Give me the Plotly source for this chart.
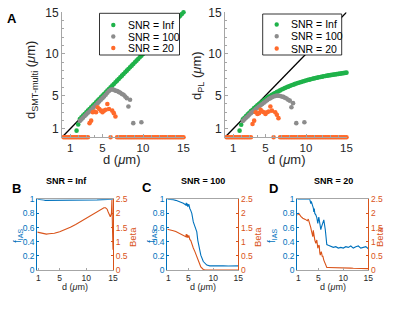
import plotly.graph_objects as go

# ---------------- data ----------------
identity_line = [0, 15]

# SNR = 20 (all fitted diameters, zeros where fit failed)
d_20 = [0.2, 0.4, 0.6, 0.8, 1.0, 1.2, 1.4, 1.6, 1.8, 2.0,
        2.2, 2.4, 2.6, 2.8, 3.0, 3.2, 3.4, 3.6, 3.8, 4.0,
        4.2, 4.4, 4.6, 4.8, 5.0, 5.2, 5.4, 5.6, 5.8, 6.0,
        6.2, 6.4, 6.6, 6.8, 7.0, 7.2, 7.4, 7.6, 7.8, 8.0,
        8.2, 8.4, 8.6, 8.8, 9.0, 9.2, 9.4, 9.6, 9.8, 10.0,
        10.2, 10.4, 10.6, 10.8, 11.0, 11.2, 11.4, 11.6, 11.8, 12.0,
        12.2, 12.4, 12.6, 12.8, 13.0, 13.2, 13.4, 13.6, 13.8, 14.0,
        14.2, 14.4, 14.6, 14.8, 15.0]
smt_20 = [0, 0, 0, 0, 0, 0, 0, 0, 0, 0,
          0, 0, 0, 0, 0, 0, 1.7, 2.0, 3.0, 3.1,
          3.0, 3.6, 3.4, 3.2, 3.0, 3.2, 3.3, 4.0, 3.4, 0,
          3.2, 2.9, 2.5, 0, 0, 0, 0, 0, 0, 0,
          0, 0, 0, 0, 0, 0, 0, 0, 0, 0,
          0, 0, 0, 0, 0, 0, 0, 0, 0, 0,
          0, 0, 0, 0, 0, 0, 0, 0, 0, 0,
          0, 0, 0, 0, 0]
pl_20 = [0, 0, 0, 0, 0, 0, 0, 0, 0, 0,
         0, 0, 0, 0, 0, 0, 1.6, 2.0, 3.0, 2.8,
         2.9, 3.3, 3.1, 3.0, 2.8, 3.0, 3.1, 3.7, 3.2, 0,
         3.0, 2.7, 2.3, 0, 0, 0, 0, 0, 0, 0,
         0, 0, 0, 0, 0, 0, 0, 0, 0, 0,
         0, 0, 0, 0, 0, 0, 0, 0, 0, 0,
         0, 0, 0, 0, 0, 0, 0, 0, 0, 0,
         0, 0, 0, 0, 0]

# SNR = Inf
d_inf = [1.8, 2.0, 2.2, 2.4, 2.6, 2.8, 3.0, 3.2, 3.4, 3.6, 3.8, 4.0,
         4.2, 4.4, 4.6, 4.8, 5.0, 5.2, 5.4, 5.6, 5.8, 6.0,
         6.2, 6.4, 6.6, 6.8, 7.0, 7.2, 7.4, 7.6, 7.8, 8.0,
         8.2, 8.4, 8.6, 8.8, 9.0, 9.2, 9.4, 9.6, 9.8, 10.0,
         10.2, 10.4, 10.6, 10.8, 11.0, 11.2, 11.4, 11.6, 11.8, 12.0,
         12.2, 12.4, 12.6, 12.8, 13.0, 13.2, 13.4, 13.6, 13.8, 14.0,
         14.2, 14.4, 14.6, 14.8, 15.0]
smt_inf = [0.8, 1.55, 2.2, 2.4, 2.6, 2.8, 3.0, 3.2, 3.4, 3.6, 3.8, 4.0,
           4.2, 4.4, 4.6, 4.8, 5.0, 5.2, 5.4, 5.6, 5.8, 6.0,
           6.2, 6.4, 6.6, 6.8, 7.0, 7.2, 7.4, 7.6, 7.8, 8.0,
           8.2, 8.4, 8.6, 8.8, 9.0, 9.2, 9.4, 9.6, 9.8, 10.0,
           10.2, 10.4, 10.6, 10.8, 11.0, 11.2, 11.4, 11.6, 11.8, 12.0,
           12.2, 12.4, 12.6, 12.8, 13.0, 13.2, 13.4, 13.6, 13.8, 14.0,
           14.2, 14.4, 14.6, 14.8, 15.0]
pl_inf = [0.8, 1.5, 2.15, 2.35, 2.55, 2.75, 2.95, 3.15, 3.3, 3.5, 3.65, 3.85,
          4.0, 4.15, 4.3, 4.45, 4.6, 4.73, 4.86, 4.98, 5.1, 5.21,
          5.32, 5.43, 5.53, 5.63, 5.73, 5.82, 5.91, 6.0, 6.08, 6.16,
          6.24, 6.31, 6.38, 6.45, 6.52, 6.58, 6.64, 6.7, 6.76, 6.82,
          6.87, 6.92, 6.97, 7.02, 7.07, 7.12, 7.16, 7.2, 7.24, 7.28,
          7.32, 7.36, 7.4, 7.43, 7.46, 7.49, 7.52, 7.55, 7.58, 7.61,
          7.64, 7.67, 7.7, 7.73, 7.76]

# SNR = 100
d_100 = [2.2, 2.4, 2.6, 2.8, 3.0, 3.2, 3.4, 3.6, 3.8, 4.0,
         4.2, 4.4, 4.6, 4.8, 5.0, 5.2, 5.4, 5.6, 5.8, 6.0,
         6.2, 6.4, 6.6, 6.8, 7.0, 7.2, 7.4, 7.6, 7.8, 8.0,
         8.2, 8.4, 8.8, 9.8]
smt_100 = [1.95, 2.15, 2.35, 2.55, 2.75, 2.95, 3.1, 3.3, 3.5, 3.7,
           3.9, 4.1, 4.3, 4.5, 4.7, 4.9, 5.1, 5.35, 5.55, 5.7,
           5.75, 5.7, 5.6, 5.55, 5.45, 5.35, 5.2, 5.1, 4.9, 4.7,
           3.7, 4.5, 1.7, 1.8]
pl_100 = [1.95, 2.15, 2.35, 2.5, 2.7, 2.9, 3.05, 3.2, 3.4, 3.55,
          3.7, 3.85, 4.0, 4.15, 4.3, 4.45, 4.6, 4.7, 4.8, 4.9,
          4.95, 5.0, 5.0, 4.95, 4.9, 4.85, 4.75, 4.65, 4.5, 4.4,
          3.6, 4.1, 1.7, 1.8]

# Panel B (SNR = Inf)
b_d_f = [0.8, 1.5, 2.0, 2.3, 5.0, 8.0, 10.0, 12.0, 13.0, 14.0, 15.0]
b_f = [1.0, 1.0, 0.99, 0.985, 0.985, 0.985, 0.988, 0.992, 0.996, 1.0, 1.0]
b_d_beta = [0.8, 1.0, 1.5, 2.0, 2.5, 3.0, 4.0, 5.0, 6.0, 7.0, 8.0, 9.0, 10.0, 11.0,
            12.0, 12.5, 13.0, 13.3, 13.6, 13.9, 14.1, 14.3, 14.5, 14.7, 14.8, 14.9, 15.0]
b_beta = [1.34, 1.33, 1.30, 1.28, 1.27, 1.28, 1.30, 1.35, 1.42, 1.51, 1.61, 1.72, 1.83, 1.94,
          2.06, 2.12, 2.17, 2.20, 2.20, 2.15, 2.05, 1.96, 1.88, 2.0, 2.48, 1.5, 0.72]

# Panel C (SNR = 100)
c_d = [0.8, 1.5, 2.0, 2.5, 3.0, 3.4, 3.7, 4.0, 4.3, 4.5,
       4.6, 4.7, 4.8, 4.9, 5.0, 5.1, 5.2, 5.3, 5.5, 5.7,
       6.0, 6.3, 6.7, 6.9, 7.2, 7.5, 8.0, 8.4, 8.7, 9.3,
       10.0, 11.0, 12.0, 13.0, 14.0, 15.0]
c_f = [1.0, 1.0, 0.995, 0.985, 0.975, 0.965, 0.95, 0.945, 0.93, 0.92,
       0.95, 0.91, 0.94, 0.9, 0.905, 0.93, 0.89, 0.87, 0.84, 0.8,
       0.68, 0.61, 0.54, 0.42, 0.33, 0.21, 0.12, 0.085, 0.07, 0.058,
       0.06, 0.058, 0.06, 0.057, 0.06, 0.058]
c_beta = [1.44, 1.42, 1.39, 1.36, 1.32, 1.28, 1.24, 1.22, 1.2, 1.18,
          1.27, 1.15, 1.25, 1.14, 1.18, 1.22, 1.1, 1.08, 1.04, 0.92,
          0.78, 0.66, 0.5, 0.42, 0.25, 0.11, 0.02, 0.0, 0.0, 0.0,
          0.0, 0.0, 0.0, 0.0, 0.0, 0.0]

# Panel D (SNR = 20)
dd = [0.8, 1.1, 1.5, 1.9, 2.4, 2.8, 3.0, 3.3, 3.5, 3.6,
      3.9, 4.0, 4.1, 4.2, 4.3, 4.5, 4.7, 4.9, 5.1, 5.2,
      5.3, 5.4, 5.5, 5.6, 5.8, 5.9, 6.1, 6.4, 6.6, 6.7,
      7.0, 7.6, 8.0, 8.5, 9.0, 9.5, 10.0, 10.5, 11.0, 11.5,
      12.0, 12.5, 13.0, 13.5, 14.0, 14.5, 15.0]
d_f = [1.0, 1.0, 1.0, 1.0, 1.0, 1.0, 1.0, 1.0, 0.94, 0.97,
       0.9, 0.88, 0.82, 0.87, 0.8, 0.78, 0.74, 0.66, 0.75, 0.68,
       0.61, 0.6, 0.57, 0.6, 0.66, 0.68, 0.71, 0.57, 0.38, 0.36,
       0.35, 0.33, 0.32, 0.33, 0.31, 0.32, 0.31, 0.33, 0.32, 0.34,
       0.31, 0.33, 0.34, 0.31, 0.32, 0.33, 0.3]
d_beta = [1.94, 2.0, 1.9, 1.83, 1.79, 1.74, 1.8, 1.65, 1.5, 1.41,
          1.18, 1.4, 1.2, 1.1, 1.06, 0.94, 1.06, 0.77, 0.88, 0.85,
          0.6, 0.53, 0.6, 0.65, 0.47, 0.5, 0.35, 0.18, 0.1, 0.09,
          0.09, 0.09, 0.085, 0.08, 0.08, 0.075, 0.08, 0.07, 0.07, 0.065,
          0.06, 0.06, 0.06, 0.055, 0.06, 0.05, 0.05]

x_ticks_top = [1, 5, 10, 15]
y_ticks_top = [1, 5, 10, 15]
x_ticks_bottom = [1, 5, 10, 15]
f_ticks = [0, 0.2, 0.4, 0.6, 0.8, 1]
f_ticktext = ["0", "0.2", "0.4", "0.6", "0.8", "1"]
beta_ticks = [0, 0.5, 1, 1.5, 2, 2.5]
beta_ticktext = ["0", "0.5", "1", "1.5", "2", "2.5"]
legend_labels = ["SNR = Inf", "SNR = 100", "SNR = 20"]

# ---------------- style ----------------
W, H = 400, 311
def px(x): return x / W
def py(y): return 1 - y / H

FONT = "Liberation Sans, Arial, Helvetica, sans-serif"
GREEN = "#1fb24a"
GRAY = "#8c8c8c"
ORANGE = "#ff6a2b"
BLUE = "#0072BD"
RED = "#D95319"
AX = "#a6a6a6"
TXT = "#262626"
MS = 4.6

fig = go.Figure()

def scatter_set(xa, ya, y_inf, y_100, y_20):
    fig.add_trace(go.Scatter(x=identity_line, y=identity_line, mode="lines",
                             line=dict(color="black", width=1.3), xaxis=xa, yaxis=ya,
                             showlegend=False, cliponaxis=False))
    fig.add_trace(go.Scatter(x=d_inf, y=y_inf, mode="markers", name=legend_labels[0],
                             marker=dict(color=GREEN, size=MS), xaxis=xa, yaxis=ya,
                             showlegend=False, cliponaxis=False))
    fig.add_trace(go.Scatter(x=d_100, y=y_100, mode="markers", name=legend_labels[1],
                             marker=dict(color=GRAY, size=MS), xaxis=xa, yaxis=ya,
                             showlegend=False, cliponaxis=False))
    fig.add_trace(go.Scatter(x=d_20, y=y_20, mode="markers", name=legend_labels[2],
                             marker=dict(color=ORANGE, size=MS), xaxis=xa, yaxis=ya,
                             showlegend=False, cliponaxis=False))

scatter_set("x", "y", smt_inf, smt_100, smt_20)
scatter_set("x2", "y2", pl_inf, pl_100, pl_20)

def line_pair(xa, yl, yr, xf, f, xb, b):
    fig.add_trace(go.Scatter(x=xf, y=f, mode="lines", line=dict(color=BLUE, width=1.1),
                             xaxis=xa, yaxis=yl, showlegend=False))
    fig.add_trace(go.Scatter(x=xb, y=b, mode="lines", line=dict(color=RED, width=1.1),
                             xaxis=xa, yaxis=yr, showlegend=False))

line_pair("x3", "y3", "y4", b_d_f, b_f, b_d_beta, b_beta)
line_pair("x4", "y5", "y6", c_d, c_f, c_d, c_beta)
line_pair("x5", "y7", "y8", dd, d_f, dd, d_beta)

top_y_dom = [py(137.3), py(12.3)]
bot_y_dom = [py(270), py(199.3)]

def top_x(dom, anchor):
    return dict(domain=dom, anchor=anchor, range=[0, 15], autorange=False, tickmode="array",
                tickvals=x_ticks_top,
                ticks="inside", ticklen=3, tickcolor=AX, showline=True, linecolor=AX, linewidth=1,
                showgrid=False, zeroline=False, tickfont=dict(size=11.5, color=TXT, family=FONT),
                minor=dict(tickmode="linear", tick0=0, dtick=1, ticks="inside", ticklen=2, tickcolor=AX))

def top_y(anchor):
    return dict(domain=top_y_dom, anchor=anchor, range=[0, 15], autorange=False, tickmode="array",
                tickvals=y_ticks_top,
                ticks="inside", ticklen=3, tickcolor=AX, showline=True, linecolor=AX, linewidth=1,
                showgrid=False, zeroline=False, tickfont=dict(size=12, color=TXT, family=FONT),
                minor=dict(tickmode="linear", tick0=0, dtick=1, ticks="inside", ticklen=2, tickcolor=AX))

def bot_x(dom, anchor):
    return dict(domain=dom, anchor=anchor, range=[0.8, 15], autorange=False, tickmode="array",
                tickvals=x_ticks_bottom,
                ticks="inside", ticklen=2, tickcolor=AX, showline=True, mirror=True, linecolor=AX,
                linewidth=1, showgrid=False, zeroline=False,
                tickfont=dict(size=8.5, color=TXT, family=FONT))

def bot_yl(anchor):
    return dict(domain=bot_y_dom, anchor=anchor, range=[0, 1], autorange=False, tickmode="array",
                tickvals=f_ticks,
                ticktext=f_ticktext, ticks="inside", ticklen=2, tickcolor=BLUE, showline=True,
                linecolor=BLUE, linewidth=1, showgrid=False, zeroline=False,
                tickfont=dict(size=8.5, color=BLUE, family=FONT))

def bot_yr(anchor, over):
    return dict(overlaying=over, side="right", anchor=anchor, range=[0, 2.5], autorange=False,
                tickmode="array",
                tickvals=beta_ticks, ticktext=beta_ticktext, ticks="inside", ticklen=2, tickcolor=RED,
                showline=True, linecolor=RED, linewidth=1, showgrid=False, zeroline=False,
                tickfont=dict(size=8.5, color=RED, family=FONT))

fig.update_layout(
    width=W, height=H, autosize=False,
    margin=dict(l=0, r=0, t=0, b=0, autoexpand=False),
    paper_bgcolor="white", plot_bgcolor="rgba(0,0,0,0)",
    font=dict(family=FONT, color=TXT),
    showlegend=False,
    xaxis=top_x([px(62), px(183.5)], "y"),
    yaxis=top_y("x"),
    xaxis2=top_x([px(225), px(346.5)], "y2"),
    yaxis2=top_y("x2"),
    xaxis3=bot_x([px(37.3), px(113)], "y3"),
    yaxis3=bot_yl("x3"),
    yaxis4=bot_yr("x3", "y3"),
    xaxis4=bot_x([px(167.3), px(238.3)], "y5"),
    yaxis5=bot_yl("x4"),
    yaxis6=bot_yr("x4", "y5"),
    xaxis5=bot_x([px(297.3), px(368.3)], "y7"),
    yaxis7=bot_yl("x5"),
    yaxis8=bot_yr("x5", "y7"),
)

ann = []
def text(x, y, s, size, color=TXT, angle=0, xanchor="center", bold=False):
    ann.append(dict(x=px(x), y=py(y), xref="paper", yref="paper", text=("<b>%s</b>" % s) if bold else s,
                    showarrow=False, textangle=angle, xanchor=xanchor, yanchor="middle",
                    font=dict(size=size, color=color, family=FONT)))

# panel letters
text(12, 18.5, "A", 13, "black", bold=True)
text(16.5, 188.5, "B", 13, "black", bold=True)
text(146.5, 187, "C", 13, "black", bold=True)
text(273.5, 188.5, "D", 13, "black", bold=True)

# top axis titles
text(31, 80, "d<sub>SMT-multi</sub> (<i>μ</i>m)", 13, angle=-90)
text(197, 76, "d<sub>PL</sub> (<i>μ</i>m)", 13, angle=-90)
text(121, 159.5, "d (<i>μ</i>m)", 13)
text(286, 159.5, "d (<i>μ</i>m)", 13)

# bottom titles and labels
text(66, 181, "SNR = Inf", 9, "black", bold=True)
text(203, 181, "SNR = 100", 9, "black", bold=True)
text(333, 181, "SNR = 20", 9, "black", bold=True)
for cx in (75, 203, 333):
    text(cx, 287, "d (<i>μ</i>m)", 9)
for lx in (18, 152, 272):
    text(lx, 236, "f<sub>IAS</sub>", 10, BLUE, angle=-90)
for rx in (132, 257, 379):
    text(rx, 237, "Beta", 9.5, RED, angle=-90)

# manual legends
shapes = []
def legend_box(x0, x1, y0, y1, mx, tx, ys):
    shapes.append(dict(type="rect", xref="paper", yref="paper", x0=px(x0), x1=px(x1),
                       y0=py(y1), y1=py(y0), line=dict(color="black", width=0.8),
                       fillcolor="white", layer="above"))
    for yy, col, lab in zip(ys, (GREEN, GRAY, ORANGE), legend_labels):
        r = 2.2
        shapes.append(dict(type="circle", xref="paper", yref="paper", x0=px(mx - r), x1=px(mx + r),
                           y0=py(yy + r), y1=py(yy - r), line=dict(width=0), fillcolor=col,
                           layer="above"))
        text(tx, yy, lab, 10.5, "black", xanchor="left")

legend_box(99.5, 179.5, 13.3, 55, 113.3, 126, (25, 36.5, 48))
legend_box(262.7, 341.7, 14, 55, 276.7, 289, (24.5, 36.3, 48.5))

fig.update_layout(annotations=ann, shapes=shapes)

fig.write_html("out.html", config={"staticPlot": True, "displayModeBar": False},
               post_script="document.body.style.margin='0';document.body.style.padding='0';")
